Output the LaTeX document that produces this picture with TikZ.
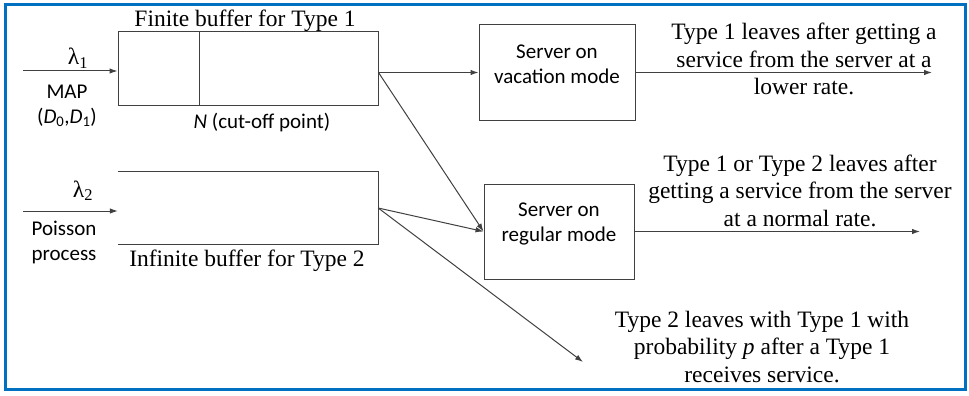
\documentclass[tikz,border=0pt]{standalone}
\usepackage{fontspec}
\setmainfont{Liberation Serif}
\newfontfamily\calibri{Carlito}
\usepackage{xcolor}
\definecolor{FrameBlue}{RGB}{0,112,192}
\definecolor{LineGray}{RGB}{64,64,64}
\usepackage{tikz}
\usetikzlibrary{arrows.meta, positioning}

\begin{document}
\begin{tikzpicture}[
        x=1pt, y=-1pt,
        outerframe/.style={rectangle, draw=FrameBlue, line width=3pt, minimum width=960pt, minimum height=384pt, inner sep=0pt},
        buffer/.style={rectangle, minimum width=260pt, minimum height=73pt, inner sep=0pt},
        server/.style={rectangle, draw=LineGray, line width=1pt, minimum height=95pt, inner sep=0pt},
        serifnote/.style={font=\fontsize{23.5}{27.5}\selectfont, align=center, inner sep=0pt, anchor=base},
        sansnote/.style={font=\calibri\fontsize{21}{25}\selectfont, align=center, inner sep=0pt, anchor=base},
        link/.style={-{Latex[length=8pt,width=5.5pt]}, line width=1pt, color=LineGray}
    ]
        \useasboundingbox (0,0) rectangle (969,396);
        \node[outerframe] (border) at (485,197) {};

        % --- BUFFERS ---
        \node[buffer, draw=LineGray, line width=1pt] (buf1) at (248,68.5) {};
        \draw[LineGray, line width=1pt] ([xshift=82pt]buf1.north west) -- ([xshift=82pt]buf1.south west);
        \node[serifnote] (buf1lbl) at ([xshift=-3pt, yshift=5pt]buf1.north) {Finite buffer for Type 1};
        \node[sansnote] (cutoff) at ([xshift=14pt, yshift=-23pt]buf1.south) {\textit{N} (cut-off point)};

        \node[buffer, minimum height=72pt] (buf2) at (248,208) {};
        \draw[LineGray, line width=1pt] (buf2.north west) -- (buf2.north east) -- (buf2.south east) -- (buf2.south west);
        \node[serifnote] (buf2lbl) at ([xshift=-1pt, yshift=-22pt]buf2.south) {Infinite buffer for Type 2};

        % --- ARRIVALS ---
        \coordinate (in1) at (23,71);
        \coordinate (in2) at (23,211);
        \node[serifnote] (lam1) at (78,65) {λ\textsubscript{1}};
        \node[sansnote] (map) at (67,123) {MAP\\(\textit{D}\textsubscript{0},\textit{D}\textsubscript{1})};
        \node[serifnote] (lam2) at (83,197) {λ\textsubscript{2}};
        \node[sansnote] (poisson) at (64,260) {Poisson\\process};

        % --- SERVERS ---
        \node[server, minimum width=156pt] (vac) at (557,72.5) {};
        \node[sansnote] (vactxt) at ([yshift=-59pt]vac.north) {Server on\\vacation mode};
        \node[server, minimum width=150pt, below=63pt of vac, xshift=2pt] (reg) {};
        \node[sansnote] (regtxt) at ([yshift=-58pt]reg.north) {Server on\\regular mode};

        % --- DEPARTURES ---
        \coordinate (out1) at (932,73);
        \coordinate (out2) at (920,231);
        \coordinate (out3) at (583,362);
        \node[serifnote] (leave1) at (804,95) {Type 1 leaves after getting a\\service from the server at a\\lower rate.};
        \node[serifnote] (leave2) at (800,226) {Type 1 or Type 2 leaves after\\getting a service from the server\\at a normal rate.};
        \node[serifnote] (leave3) at (762,382) {Type 2 leaves with Type 1 with\\probability \textit{p} after a Type 1\\receives service.};

        % --- CONNECTIONS ---
        \draw[link] (in1) -- (in1 -| buf1.west);
        \draw[link] (in2) -- (in2 -| buf2.west);
        \draw[link] (buf1.east |- vac.west) -- (vac.west);
        \draw[link] (buf1.east |- vac.west) -- (reg.west);
        \draw[link] (buf2.east) -- (reg.west);
        \draw[link] (buf2.east) -- (out3);
        \draw[link] (vac.east) -- (vac.east -| out1);
        \draw[link] (reg.east) -- (reg.east -| out2);
\end{tikzpicture}
\end{document}
